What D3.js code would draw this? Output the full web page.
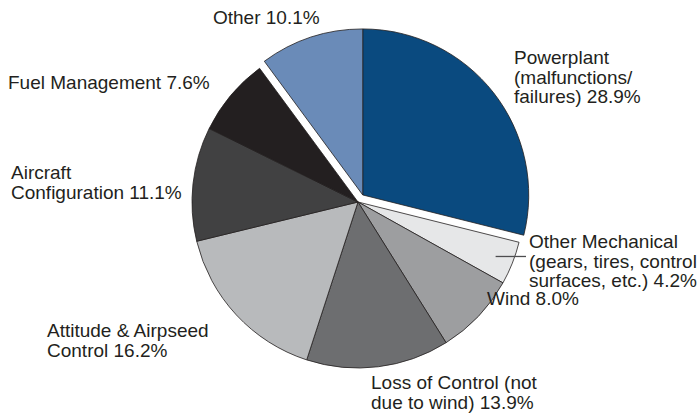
<!DOCTYPE html>
<html>
<head>
<meta charset="utf-8">
<script src="https://cdn.jsdelivr.net/npm/d3@7/dist/d3.min.js"></script>
<style>
  html, body { margin: 0; padding: 0; background: #fff; }
  svg { display: block; }
  text { font-family: "Liberation Sans", Arial, Helvetica, sans-serif; fill: #231f20; }
</style>
</head>
<body>
<svg id="chart" width="700" height="415"></svg>
<script>
// ---- data ----
const categories = [
  "Powerplant (malfunctions/failures)",
  "Other Mechanical (gears, tires, control surfaces, etc.)",
  "Wind",
  "Loss of Control (not due to wind)",
  "Attitude & Airpseed Control",
  "Aircraft Configuration",
  "Fuel Management",
  "Other"
];
const values = [28.9, 4.2, 8.0, 13.9, 16.2, 11.1, 7.6, 10.1];
const labelLines = [
  ["Powerplant", "(malfunctions/", "failures) 28.9%"],
  ["Other Mechanical", "(gears, tires, control", "surfaces, etc.) 4.2%"],
  ["Wind 8.0%"],
  ["Loss of Control (not", "due to wind) 13.9%"],
  ["Attitude & Airpseed", "Control 16.2%"],
  ["Aircraft", "Configuration 11.1%"],
  ["Fuel Management 7.6%"],
  ["Other 10.1%"]
];
const explodedGroup = ["Other", "Powerplant (malfunctions/failures)"];

// ---- styles / layout ----
const colors = ["#0a4a7f", "#e6e7e8", "#9d9ea0", "#6d6e70", "#b8babc", "#414142", "#231f20", "#6a8bb8"];
const cx = 358, cy = 202, R = 166, explode = 8.5;
const labelPos = [
  [514, 64], [529, 248], [487, 305], [371, 389], [47, 337], [11, 179], [8, 89], [213, 24]
];
const fontSize = 19, lineH = 19.5;

const svg = d3.select("#chart");
const pie = d3.pie().sort(null).value(d => d.v).startAngle(0).endAngle(2 * Math.PI);
const data = categories.map((c, i) => ({ c, v: values[i], i }));
const arcs = pie(data);
const arc = d3.arc().innerRadius(0).outerRadius(R);

// exploded group direction (group wraps around 12 o'clock)
const grp = arcs.filter(a => explodedGroup.includes(a.data.c));
const gStart = Math.min(...grp.map(a => a.startAngle > Math.PI ? a.startAngle - 2 * Math.PI : a.startAngle));
const gEnd = Math.max(...grp.map(a => a.startAngle > Math.PI ? a.endAngle - 2 * Math.PI : a.endAngle));
const gMid = (gStart + gEnd) / 2;
const gdx = explode * Math.sin(gMid), gdy = -explode * Math.cos(gMid);

const g = svg.append("g").attr("transform", `translate(${cx},${cy})`);
g.selectAll("path").data(arcs).join("path")
  .attr("d", arc)
  .attr("fill", d => colors[d.data.i])
  .attr("stroke", "#231f20")
  .attr("stroke-width", 0.8)
  .attr("stroke-linejoin", "round")
  .attr("transform", d => explodedGroup.includes(d.data.c) ? `translate(${gdx},${gdy})` : null);

// leader line for Other Mechanical
const om = arcs[1];
const omMid = (om.startAngle + om.endAngle) / 2;
const lr = R - 18;
svg.append("line")
  .attr("x1", cx + lr * Math.sin(omMid)).attr("y1", cy - lr * Math.cos(omMid))
  .attr("x2", 526).attr("y2", cy - lr * Math.cos(omMid))
  .attr("stroke", "#4d4d4f").attr("stroke-width", 1.3);

// labels
labelLines.forEach((lines, i) => {
  const t = svg.append("text")
    .attr("x", labelPos[i][0]).attr("y", labelPos[i][1])
    .attr("font-size", fontSize);
  lines.forEach((ln, j) => {
    t.append("tspan").attr("x", labelPos[i][0]).attr("dy", j === 0 ? 0 : lineH).text(ln);
  });
});
</script>
</body>
</html>
